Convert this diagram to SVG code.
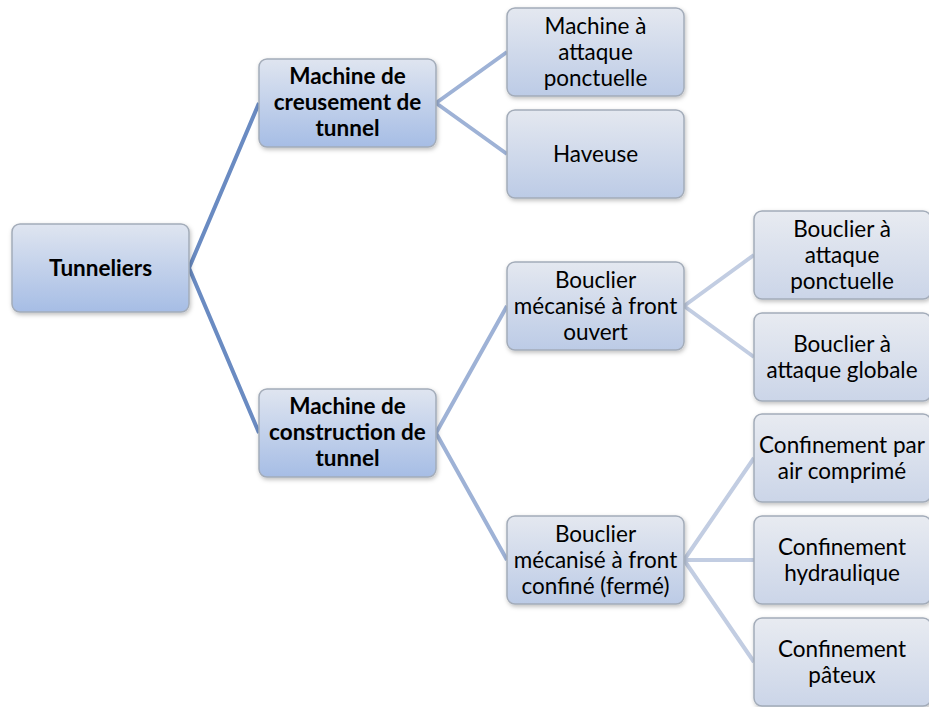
<svg xmlns="http://www.w3.org/2000/svg" width="929" height="707" viewBox="0 0 929 707">
<defs>
<linearGradient id="g1" x1="0" y1="0" x2="0" y2="1"><stop offset="0" stop-color="#dfe5f0"/><stop offset="1" stop-color="#a6bde5"/></linearGradient>
<linearGradient id="g2" x1="0" y1="0" x2="0" y2="1"><stop offset="0" stop-color="#e4e8f0"/><stop offset="1" stop-color="#bccbe6"/></linearGradient>
<linearGradient id="g3" x1="0" y1="0" x2="0" y2="1"><stop offset="0" stop-color="#e8ebf1"/><stop offset="1" stop-color="#cbd5e8"/></linearGradient>
<filter id="sh" x="-10%" y="-10%" width="130%" height="130%"><feDropShadow dx="1" dy="2" stdDeviation="2" flood-color="#000" flood-opacity="0.25"/></filter>
</defs>
<style>
.n rect{stroke:#a3acb9;stroke-width:1.5;filter:url(#sh)}
.l1 rect{fill:url(#g1)}
.l2 rect{fill:url(#g2)}
.l3 rect{fill:url(#g3)}
text{font-family:Lato,"Open Sans",sans-serif;font-size:22.5px;fill:#000;text-anchor:middle}
.b text{font-weight:bold;font-size:22.5px}
.c1{stroke:#6a8bc2;stroke-width:4;fill:none}
.c2{stroke:#9eb2d6;stroke-width:4;fill:none}
.c3{stroke:#c2cde2;stroke-width:4;fill:none}
</style>
<rect width="929" height="707" fill="#fff"/>
<g id="connectors">
<path class="c1" d="M189 268 L259 103 M189 268 L259 433"/>
<path class="c2" d="M436 103 L507 52 M436 103 L507 154 M436 433 L507 306 M436 433 L507 560"/>
<path class="c3" d="M684 306 L754 255 M684 306 L754 357 M684 560 L754 458 M684 560 L754 560 M684 560 L754 662"/>
</g>
<g id="tunneliers" class="n l1 b"><rect x="12" y="224" width="177" height="88" rx="8"/><text x="100.5" y="276">Tunneliers</text></g>
<g id="creusement" class="n l1 b"><rect x="259" y="59" width="177" height="88" rx="8"/><text x="347.5" y="84">Machine de</text><text x="347.5" y="110">creusement de</text><text x="347.5" y="136">tunnel</text></g>
<g id="construction" class="n l1 b"><rect x="259" y="389" width="177" height="88" rx="8"/><text x="347.5" y="414">Machine de</text><text x="347.5" y="440">construction de</text><text x="347.5" y="466">tunnel</text></g>
<g id="machine-attaque" class="n l2"><rect x="507" y="8" width="177" height="88" rx="8"/><text x="595.5" y="34">Machine à</text><text x="595.5" y="60">attaque</text><text x="595.5" y="86">ponctuelle</text></g>
<g id="haveuse" class="n l2"><rect x="507" y="110" width="177" height="88" rx="8"/><text x="595.5" y="162">Haveuse</text></g>
<g id="front-ouvert" class="n l2"><rect x="507" y="262" width="177" height="88" rx="8"/><text x="595.5" y="288">Bouclier</text><text x="595.5" y="314">mécanisé à front</text><text x="595.5" y="340">ouvert</text></g>
<g id="front-confine" class="n l2"><rect x="507" y="516" width="177" height="88" rx="8"/><text x="595.5" y="542">Bouclier</text><text x="595.5" y="568">mécanisé à front</text><text x="595.5" y="594">confiné (fermé)</text></g>
<g id="bouclier-ponctuelle" class="n l3"><rect x="754" y="211" width="177" height="88" rx="8"/><text x="842" y="237">Bouclier à</text><text x="842" y="263">attaque</text><text x="842" y="289">ponctuelle</text></g>
<g id="bouclier-globale" class="n l3"><rect x="754" y="313" width="177" height="88" rx="8"/><text x="842" y="352">Bouclier à</text><text x="842" y="378">attaque globale</text></g>
<g id="air-comprime" class="n l3"><rect x="754" y="414" width="177" height="88" rx="8"/><text x="842" y="453">Confinement par</text><text x="842" y="479">air comprimé</text></g>
<g id="hydraulique" class="n l3"><rect x="754" y="516" width="177" height="88" rx="8"/><text x="842" y="555">Confinement</text><text x="842" y="581">hydraulique</text></g>
<g id="pateux" class="n l3"><rect x="754" y="618" width="177" height="88" rx="8"/><text x="842" y="657">Confinement</text><text x="842" y="683">pâteux</text></g>
</svg>
